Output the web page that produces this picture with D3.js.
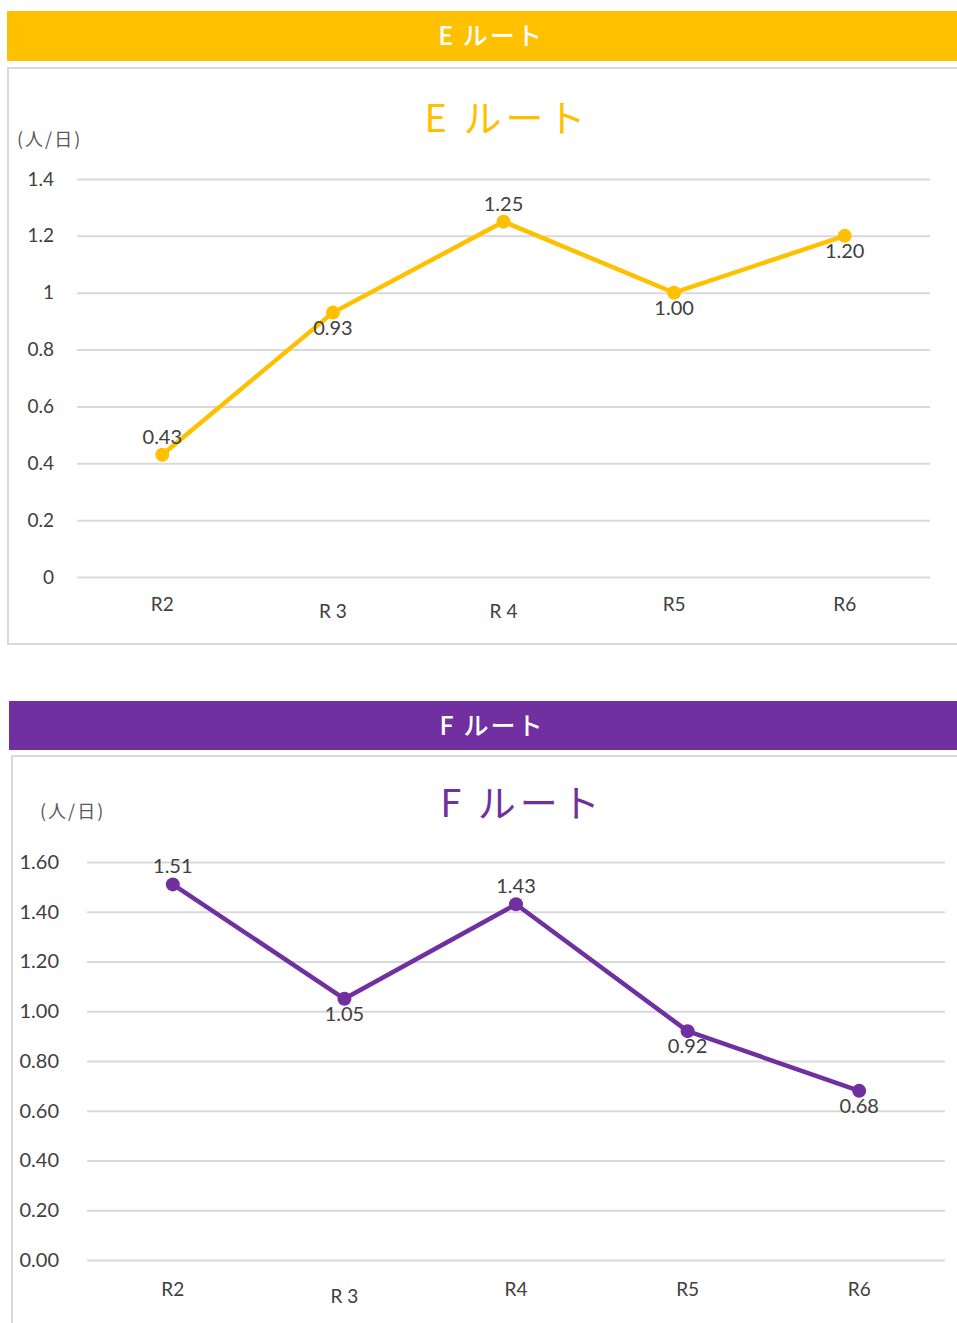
<!DOCTYPE html>
<html><head><meta charset="utf-8">
<script src="https://cdn.jsdelivr.net/npm/d3@7"></script>
<style>body{margin:0;background:#fff}svg{display:block}</style>
</head><body>
<script>
const categoriesE = ["R2","R 3","R 4","R5","R6"];
const valuesE = [0.43, 0.93, 1.25, 1.00, 1.20];
const labelPosE = ["above","below","above","below","below"];
const ticksE = [0,0.2,0.4,0.6,0.8,1,1.2,1.4];
const tickLabelsE = ["0","0.2","0.4","0.6","0.8","1","1.2","1.4"];

const categoriesF = ["R2","R 3","R4","R5","R6"];
const valuesF = [1.51, 1.05, 1.43, 0.92, 0.68];
const labelPosF = ["above","below","above","below","below"];
const ticksF = [0,0.2,0.4,0.6,0.8,1.0,1.2,1.4,1.6];
const tickLabelsF = ["0.00","0.20","0.40","0.60","0.80","1.00","1.20","1.40","1.60"];

const W = 957, H = 1323;
const svg = d3.select("body").append("svg").attr("width", W).attr("height", H);
const FONT = "Lato, 'Noto Sans CJK JP', sans-serif";

function drawChart(cfg) {
  svg.append("rect").attr("x", cfg.band.x).attr("y", cfg.band.y).attr("width", W - cfg.band.x).attr("height", cfg.band.h).attr("fill", cfg.color);
  svg.append("text").attr("x", cfg.band.tx).attr("y", cfg.band.y + cfg.band.h/2 + 9)
    .attr("text-anchor","middle").attr("fill","#fff").attr("font-family","'Noto Sans CJK JP', sans-serif")
    .attr("font-size", 25).attr("font-weight", 500).attr("letter-spacing", 2).text(cfg.name);
  svg.append("rect").attr("x", cfg.box.x).attr("y", cfg.box.y).attr("width", W - cfg.box.x + 5).attr("height", cfg.box.h)
    .attr("fill","#fff").attr("stroke","#d9d9d9").attr("stroke-width", 2);
  svg.append("text").attr("x", cfg.title.x).attr("y", cfg.title.y).attr("text-anchor","middle")
    .attr("fill", cfg.color).attr("font-family","'Noto Sans CJK JP', sans-serif").attr("font-size", 38)
    .attr("letter-spacing", 4).text(cfg.name);
  svg.append("text").attr("x", cfg.unit.x).attr("y", cfg.unit.y).attr("fill","#595959")
    .attr("font-family","'Noto Sans CJK JP', sans-serif").attr("font-size", 18).attr("letter-spacing", 2).text("(人/日)");

  const x = d3.scaleBand().domain(cfg.categories).range([cfg.x0, cfg.x1]);
  const y = d3.scaleLinear().domain([0, cfg.ymax]).range([cfg.y0, cfg.y1]);

  const g = svg.append("g");
  const yAxis = d3.axisLeft(y).tickValues(cfg.ticks).tickSize(-(cfg.x1 - cfg.x0)).tickPadding(cfg.tickPad)
    .tickFormat((d,i) => cfg.tickLabels[i]);
  const ya = g.append("g").attr("transform", `translate(${cfg.x0},0)`).call(yAxis);
  ya.select(".domain").remove();
  ya.selectAll(".tick line").attr("stroke","#d9d9d9").attr("stroke-width", 2);
  ya.selectAll(".tick text").attr("fill","#404040").attr("font-family", FONT).attr("font-size", cfg.tickFs);

  const xAxis = d3.axisBottom(x).tickSize(0).tickPadding(0);
  const xa = g.append("g").attr("transform", `translate(0,${cfg.y0})`).call(xAxis);
  xa.select(".domain").remove();
  xa.selectAll(".tick text").attr("fill","#404040").attr("font-family", FONT).attr("font-size", 19)
    .attr("dy", null).attr("y", d => d.includes(" ") ? cfg.xLabDy + 7 : cfg.xLabDy);

  const cx = d => x(d) + x.bandwidth()/2;
  const data = cfg.categories.map((c,i) => ({c, v: cfg.values[i], pos: cfg.labelPos[i]}));
  g.append("path").datum(data).attr("fill","none").attr("stroke", cfg.color).attr("stroke-width", 4.5)
    .attr("stroke-linejoin","round")
    .attr("d", d3.line().x(d => cx(d.c)).y(d => y(d.v)));
  g.selectAll("circle.pt").data(data).join("circle").attr("class","pt")
    .attr("cx", d => cx(d.c)).attr("cy", d => y(d.v)).attr("r", 7).attr("fill", cfg.color);
  g.selectAll("text.lab").data(data).join("text").attr("class","lab")
    .attr("x", d => cx(d.c)).attr("y", d => d.pos === "above" ? y(d.v) - 11 : y(d.v) + 22)
    .attr("text-anchor","middle").attr("fill","#404040").attr("font-family", FONT).attr("font-size", 20)
    .text(d => d.v.toFixed(2));
}

drawChart({
  name: "E ルート", color: "#FFC000",
  band: {x: 7, y: 11, h: 50, tx: 491},
  box: {x: 8, y: 68, h: 576},
  title: {x: 507, y: 132},
  unit: {x: 17, y: 146},
  categories: categoriesE, values: valuesE, labelPos: labelPosE,
  ticks: ticksE, tickLabels: tickLabelsE, ymax: 1.4, tickFs: 19,
  x0: 77, x1: 930, y0: 577, y1: 179, tickPad: 23, xLabDy: 34
});

drawChart({
  name: "F ルート", color: "#7030A0",
  band: {x: 9, y: 701, h: 49, tx: 492},
  box: {x: 12, y: 756, h: 580},
  title: {x: 522, y: 817},
  unit: {x: 40, y: 818},
  categories: categoriesF, values: valuesF, labelPos: labelPosF,
  ticks: ticksF, tickLabels: tickLabelsF, ymax: 1.6, tickFs: 20,
  x0: 87, x1: 945, y0: 1260, y1: 862, tickPad: 28, xLabDy: 36
});
</script>
</body></html>
